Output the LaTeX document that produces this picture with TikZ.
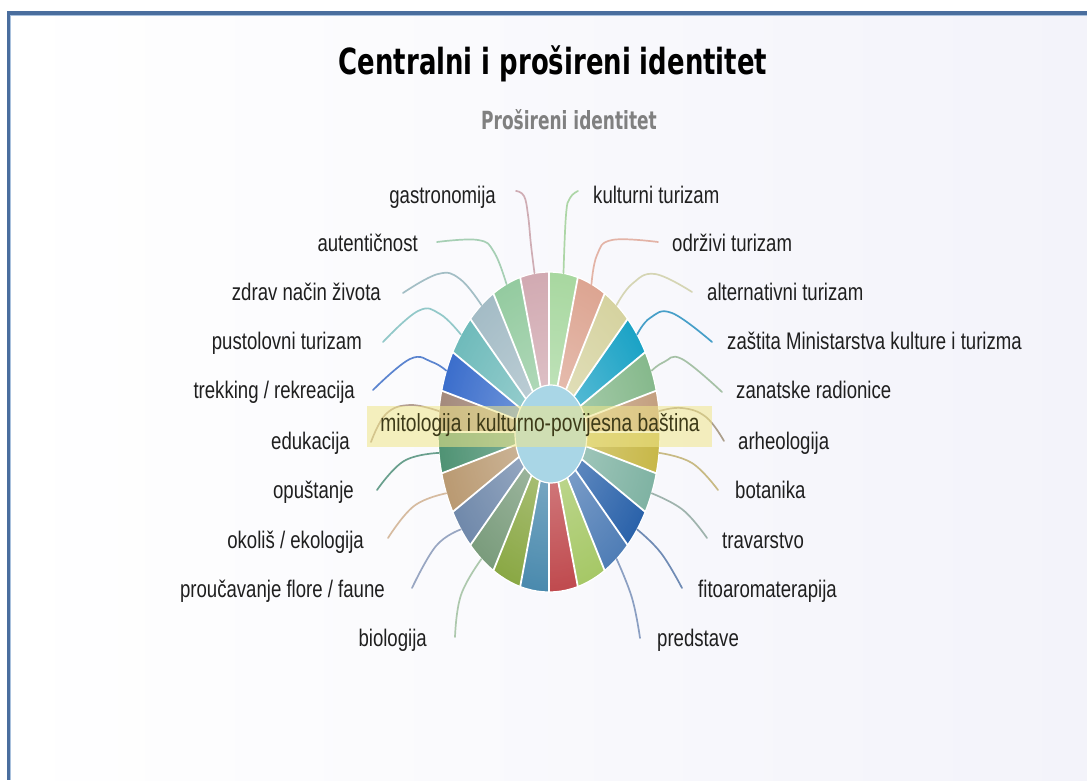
\documentclass[tikz,border=0pt]{standalone}
\usepackage{fontspec}
\usetikzlibrary{fadings}
\setmainfont{Liberation Sans}
\newfontfamily\lblfont[FakeStretch=0.775]{Liberation Sans}
\newfontfamily\ttlfont[FakeStretch=0.72]{DejaVu Sans}
\newfontfamily\subfont[FakeStretch=0.68]{DejaVu Sans}
\definecolor{frameblue}{HTML}{4A6E9E}
\definecolor{framelight}{HTML}{A9C1DD}
\definecolor{bgR}{HTML}{F3F3FA}
\definecolor{s0}{HTML}{A8D8A0}
\definecolor{s1}{HTML}{DDA592}
\definecolor{s2}{HTML}{D6D3A0}
\definecolor{s3}{HTML}{1BA3C6}
\definecolor{s4}{HTML}{86B98C}
\definecolor{s5}{HTML}{C4A080}
\definecolor{s6}{HTML}{C8B848}
\definecolor{s7}{HTML}{7FB3A3}
\definecolor{s8}{HTML}{2A62AA}
\definecolor{s9}{HTML}{4F7DB6}
\definecolor{s10}{HTML}{A6C866}
\definecolor{s11}{HTML}{C04A4E}
\definecolor{s12}{HTML}{4A8AAE}
\definecolor{s13}{HTML}{8AA844}
\definecolor{s14}{HTML}{7A9C7C}
\definecolor{s15}{HTML}{7089AB}
\definecolor{s16}{HTML}{BA9A72}
\definecolor{s17}{HTML}{4F9374}
\definecolor{s18}{HTML}{A48A7C}
\definecolor{s19}{HTML}{3B6ECC}
\definecolor{s20}{HTML}{6FBBBB}
\definecolor{s21}{HTML}{A4BCC6}
\definecolor{s22}{HTML}{94CBA0}
\definecolor{s23}{HTML}{D2AAB2}
\definecolor{innerblue}{HTML}{A9D6E6}
\definecolor{bandyellow}{HTML}{F0E68A}
\definecolor{bandtext}{HTML}{3D3A18}
\definecolor{cGa}{HTML}{C8A0A8}
\definecolor{cAu}{HTML}{98C8A8}
\definecolor{cZd}{HTML}{94B4BC}
\definecolor{cPu}{HTML}{80C0C0}
\definecolor{cTr}{HTML}{4070C8}
\definecolor{cEd}{HTML}{A89080}
\definecolor{cOp}{HTML}{50907A}
\definecolor{cOk}{HTML}{D0B090}
\definecolor{cPr}{HTML}{8898B8}
\definecolor{cBi}{HTML}{A0C0A0}
\definecolor{cKu}{HTML}{A0D098}
\definecolor{cOd}{HTML}{E0A898}
\definecolor{cAl}{HTML}{D0D0A8}
\definecolor{cZa}{HTML}{2890C0}
\definecolor{cZn}{HTML}{98B898}
\definecolor{cAr}{HTML}{A09078}
\definecolor{cBo}{HTML}{C0B070}
\definecolor{cTv}{HTML}{90A8A0}
\definecolor{cFi}{HTML}{5878A8}
\definecolor{cPd}{HTML}{7890B8}
\tikzfading[name=piegloss, inner color=transparent!65, outer color=transparent!100]
\begin{document}
\begin{tikzpicture}[x=1pt,y=-1pt,
  lbl/.style={font=\lblfont\fontsize{24}{26}\selectfont, text=black!88, inner sep=0pt},
  lblL/.style={lbl, anchor=base east},
  lblR/.style={lbl, anchor=base west},
  conn/.style={line width=1.7pt, line cap=round, opacity=0.85},
  sep/.style={white, line width=1.8pt}
]
\useasboundingbox (0,0) rectangle (1087,780);
\fill[white] (0,0) rectangle (1087,780);
\shade[left color=white, right color=bgR] (10,15) rectangle (1087,780);
\fill[frameblue] (7,11) rectangle (1087,15);
\fill[frameblue] (7,11) rectangle (10,780);
\draw[framelight, line width=1pt] (1087,15.5) -- (10.5,15.5) -- (10.5,780);

% titles
\node[font=\ttlfont\bfseries\fontsize{36}{40}\selectfont, anchor=base, inner sep=0pt] (title) at (553,74) {Centralni i prošireni identitet};
\node[font=\subfont\bfseries\fontsize{25}{28}\selectfont, anchor=base, inner sep=0pt, text=black!50] (sub) at (569,129) {Prošireni identitet};

% pie
\coordinate (C) at (549,432);
\foreach \c [count=\i from 0] in {s0,s1,s2,s3,s4,s5,s6,s7,s8,s9,s10,s11,s12,s13,s14,s15,s16,s17,s18,s19,s20,s21,s22,s23} {
  \pgfmathsetmacro\a{15*\i}
  \pgfmathsetmacro\b{15*\i+15}
  \fill[\c] (C) -- plot[domain=\a:\b, samples=8] ({549+111*sin(\x)},{432-160*cos(\x)}) -- cycle;
  \coordinate (r\i) at ({549+111*sin(15*\i+7.5)},{432-160*cos(15*\i+7.5)});
}
\fill[white, path fading=piegloss] (C) ellipse [x radius=111, y radius=160];
\foreach \i in {0,...,23} {
  \draw[sep] (C) -- ({549+112*sin(15*\i)},{432-161*cos(15*\i)});
}
\draw[white, line width=1.2pt] (C) ellipse [x radius=111, y radius=160];
\fill[innerblue] (551,434) ellipse [x radius=36, y radius=49];
\draw[white, line width=1.2pt] (551,434) ellipse [x radius=36, y radius=49];

% left labels
\node[lblL] (ga) at (496,203) {gastronomija};
\node[lblL] (au) at (418,251) {autentičnost};
\node[lblL] (zd) at (381,300) {zdrav način života};
\node[lblL] (pu) at (362,349) {pustolovni turizam};
\node[lblL] (tr) at (355,398) {trekking / rekreacija};
\node[lblL] (ed) at (350,449) {edukacija};
\node[lblL] (op) at (354,498) {opuštanje};
\node[lblL] (ok) at (364,548) {okoliš / ekologija};
\node[lblL] (pr) at (385,597) {proučavanje flore / faune};
\node[lblL] (bi) at (427,646) {biologija};
% right labels
\node[lblR] (ku) at (593,203) {kulturni turizam};
\node[lblR] (od) at (672,251) {održivi turizam};
\node[lblR] (al) at (707,300) {alternativni turizam};
\node[lblR] (za) at (727,349) {zaštita Ministarstva kulture i turizma};
\node[lblR] (zn) at (736,398) {zanatske radionice};
\node[lblR] (ar) at (738,449) {arheologija};
\node[lblR] (bo) at (735,498) {botanika};
\node[lblR] (tv) at (722,548) {travarstvo};
\node[lblR] (fi) at (698,597) {fitoaromaterapija};
\node[lblR] (pd) at (657,646) {predstave};

% connector start points
\coordinate (ga-s) at (516,191);
\coordinate (au-s) at (437,242);
\coordinate (zd-s) at (403,293);
\coordinate (pu-s) at (383,342);
\coordinate (tr-s) at (373,390);
\coordinate (ed-s) at (371,442);
\coordinate (op-s) at (377,490);
\coordinate (ok-s) at (388,538);
\coordinate (pr-s) at (412,588);
\coordinate (bi-s) at (455,637);
\coordinate (ku-s) at (578,191);
\coordinate (od-s) at (658,242);
\coordinate (al-s) at (692,292);
\coordinate (za-s) at (712,342);
\coordinate (zn-s) at (722,392);
\coordinate (ar-s) at (724,441);
\coordinate (bo-s) at (718,490);
\coordinate (tv-s) at (707,538);
\coordinate (fi-s) at (682,588);
\coordinate (pd-s) at (640,638);

% connectors left
\draw[conn, cGa] plot[smooth, tension=0.7] coordinates {(ga-s) (524,196) (528,215) (531,245) (r23)};
\draw[conn, cAu] plot[smooth, tension=0.7] coordinates {(au-s) (478,240) (494,252) (r22)};
\draw[conn, cZd] plot[smooth, tension=0.7] coordinates {(zd-s) (438,274) (460,279) (r21)};
\draw[conn, cPu] plot[smooth, tension=0.7] coordinates {(pu-s) (418,311) (440,314) (r20)};
\draw[conn, cTr] plot[smooth, tension=0.7] coordinates {(tr-s) (410,359) (432,362) (r19)};
\draw[conn, cEd] plot[smooth, tension=0.7] coordinates {(ed-s) (386,414) (410,405) (r18)};
\draw[conn, cOp] plot[smooth, tension=0.7] coordinates {(op-s) (404,461) (r17)};
\draw[conn, cOk] plot[smooth, tension=0.7] coordinates {(ok-s) (414,506) (r16)};
\draw[conn, cPr] plot[smooth, tension=0.7] coordinates {(pr-s) (436,546) (r15)};
\draw[conn, cBi] plot[smooth, tension=0.7] coordinates {(bi-s) (461,595) (r14)};
% connectors right
\draw[conn, cKu] plot[smooth, tension=0.7] coordinates {(ku-s) (570,198) (566,215) (r0)};
\draw[conn, cOd] plot[smooth, tension=0.7] coordinates {(od-s) (612,240) (597,255) (r1)};
\draw[conn, cAl] plot[smooth, tension=0.7] coordinates {(al-s) (655,274) (632,284) (r2)};
\draw[conn, cZa] plot[smooth, tension=0.7] coordinates {(za-s) (672,313) (650,318) (r3)};
\draw[conn, cZn] plot[smooth, tension=0.7] coordinates {(zn-s) (682,359) (664,362) (r4)};
\draw[conn, cAr] plot[smooth, tension=0.7] coordinates {(ar-s) (706,417) (682,408) (r5)};
\draw[conn, cBo] plot[smooth, tension=0.7] coordinates {(bo-s) (692,463) (r6)};
\draw[conn, cTv] plot[smooth, tension=0.7] coordinates {(tv-s) (683,510) (r7)};
\draw[conn, cFi] plot[smooth, tension=0.7] coordinates {(fi-s) (661,553) (r8)};
\draw[conn, cPd] plot[smooth, tension=0.7] coordinates {(pd-s) (632,598) (r9)};

% central band
\fill[bandyellow, opacity=0.55] (367,406) rectangle (712,447);
\node[lbl, font=\lblfont\fontsize{24.8}{26}\selectfont, anchor=base, text=bandtext] (myth) at (540,431) {mitologija i kulturno-povijesna baština};
\end{tikzpicture}
\end{document}
